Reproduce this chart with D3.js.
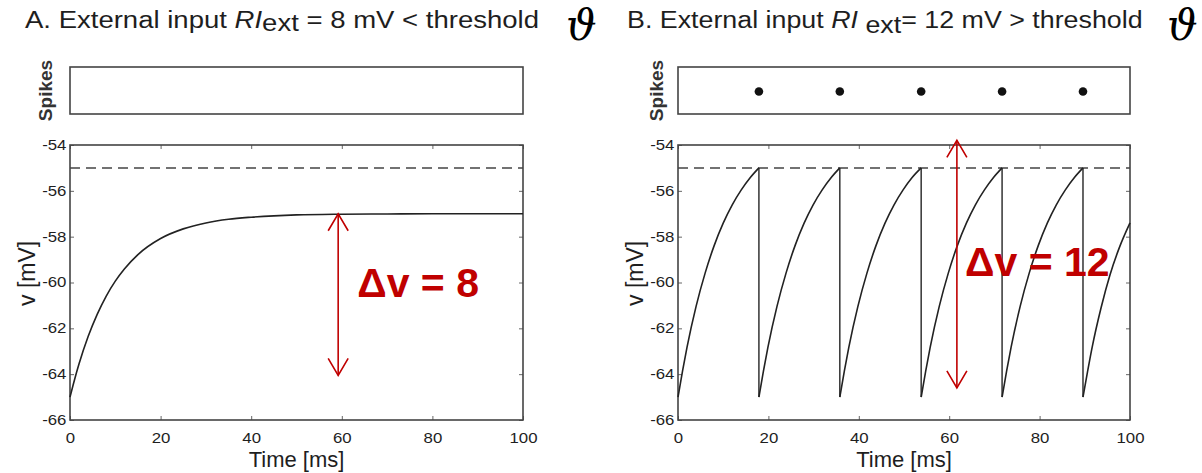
<!DOCTYPE html>
<html lang="en">
<head>
<meta charset="utf-8">
<title>Leaky integrate-and-fire: input below and above threshold</title>
<script src="https://d3js.org/d3.v7.min.js"></script>
<style>
  body { margin: 0; background: #fff; }
  svg text { font-family: "Liberation Sans", Arial, Helvetica, sans-serif; fill: #1e1e1e; }
  .tick line { stroke: #666; }
</style>
</head>
<body>
<script>
// ---- data ----
var xTicks = [0, 20, 40, 60, 80, 100];
var yTicks = [-54, -56, -58, -60, -62, -64, -66];
var threshold = -55;

// panel A: sub-threshold input, v relaxes towards -57 mV
var timeA = [0, 1, 2, 4, 6, 8, 10, 12, 15, 20, 25, 30, 35, 40, 50, 60, 70, 80, 90, 100];
var voltA = [-65, -64.24, -63.55, -62.36, -61.39, -60.59, -59.94, -59.41, -58.78, -58.08,
             -57.66, -57.4, -57.24, -57.15, -57.05, -57.02, -57.01, -57, -57, -57];

// panel B: supra-threshold input, reset to -65 at each spike
var timeB = [0, 1, 2, 4, 6, 8, 10, 12, 14, 16, 17.9,
             17.9, 18.9, 19.9, 21.9, 23.9, 25.9, 27.9, 29.9, 31.9, 33.9, 35.8,
             35.8, 36.8, 37.8, 39.8, 41.8, 43.8, 45.8, 47.8, 49.8, 51.8, 53.8,
             53.8, 54.8, 55.8, 57.8, 59.8, 61.8, 63.8, 65.8, 67.8, 69.8, 71.7,
             71.7, 72.7, 73.7, 75.7, 77.7, 79.7, 81.7, 83.7, 85.7, 87.7, 89.6,
             89.6, 90.6, 91.6, 93.6, 95.6, 97.6, 100];
var voltB = [-65, -63.87, -62.82, -61.04, -59.59, -58.39, -57.41, -56.61, -55.96, -55.42, -55,
             -65, -63.87, -62.82, -61.04, -59.59, -58.39, -57.41, -56.61, -55.96, -55.42, -55,
             -65, -63.87, -62.82, -61.04, -59.59, -58.39, -57.41, -56.61, -55.96, -55.42, -55,
             -65, -63.87, -62.82, -61.04, -59.59, -58.39, -57.41, -56.61, -55.96, -55.42, -55,
             -65, -63.87, -62.82, -61.04, -59.59, -58.39, -57.41, -56.61, -55.96, -55.42, -55,
             -65, -63.9, -62.85, -61.1, -59.65, -58.5, -57.4];
var spikesA = [];
var spikesB = [17.9, 35.8, 53.8, 71.7, 89.6];

// red annotations: arrow time, arrow ends (mV), label anchor
var arrowT = [59.2, 61.7];
var arrowTop = [-57.0, -53.8];
var arrowBottom = [-64.05, -64.6];
var deltaLabels = ["\u0394v = 8", "\u0394v = 12"];
var labelT = [63.4, 63.5];
var labelV = [-60.65, -59.7];

// ---- layout ----
var width = 1202, height = 473;
var svg = d3.select("body").append("svg")
    .attr("width", width)
    .attr("height", height);

var red = "#c00000";
var textStretch = 1.2;

var panels = [
  { left: 70, right: 523, time: timeA, volt: voltA, spikes: spikesA,
    titleX: 25, titleEnd: 539, thetaX: 566, spikeLabelX: 45 },
  { left: 678, right: 1130, time: timeB, volt: voltB, spikes: spikesB,
    titleX: 627, titleEnd: 1143, thetaX: 1167, spikeLabelX: 656 }
];

var spikeTop = 67, spikeBottom = 114;
var plotTop = 145, plotBottom = 420;

var y = d3.scaleLinear().domain([-66, -54]).range([plotBottom, plotTop]);

// stretch a text element horizontally to a target width, keeping its left edge
function fitWidth(el, x, yb, target) {
  var w = el.node().getComputedTextLength();
  el.attr("transform", "translate(" + x + "," + yb + ") scale(" + (target / w) + ",1)");
}

panels.forEach(function(p, i) {
  var x = d3.scaleLinear().domain([0, 100]).range([p.left, p.right]);
  var g = svg.append("g");

  // title
  var title = g.append("text")
      .attr("font-size", 23);
  title.append("tspan").text(i === 0 ? "A.  External input " : "B. External input ");
  title.append("tspan").attr("font-style", "italic").text(i === 0 ? "RI" : "RI ");
  title.append("tspan").attr("dy", i === 0 ? 3 : 5).text("ext");
  title.append("tspan").attr("dy", i === 0 ? -3 : -5)
      .text(i === 0 ? " = 8 mV < threshold" : "= 12 mV > threshold");
  fitWidth(title, p.titleX, 28, p.titleEnd - p.titleX);

  g.append("text")
      .attr("x", p.thetaX)
      .attr("y", 40)
      .attr("font-size", 43)
      .attr("font-style", "italic")
      .style("font-family", "'DejaVu Serif', serif")
      .style("fill", "#000")
      .text("\u03d1");

  // spike raster
  g.append("rect")
      .attr("x", p.left)
      .attr("y", spikeTop)
      .attr("width", p.right - p.left)
      .attr("height", spikeBottom - spikeTop)
      .attr("fill", "none")
      .attr("stroke", "#444")
      .attr("stroke-width", 1.6);

  g.selectAll(".spike")
      .data(p.spikes)
      .enter().append("circle")
      .attr("class", "spike")
      .attr("cx", function(d) { return x(d); })
      .attr("cy", (spikeTop + spikeBottom) / 2 + 1)
      .attr("r", 4.3)
      .attr("fill", "#111");

  g.append("text")
      .attr("transform", "translate(" + p.spikeLabelX + "," + ((spikeTop + spikeBottom) / 2) + ") rotate(-90)")
      .attr("text-anchor", "middle")
      .attr("dy", "0.35em")
      .attr("font-size", 19)
      .attr("font-weight", "bold")
      .style("fill", "#333")
      .text("Spikes");

  // axes (inward ticks, box style)
  var fmt = function(d) { return String(d); };
  var bottom = g.append("g")
      .attr("transform", "translate(0," + plotBottom + ")")
      .call(d3.axisBottom(x).tickValues(xTicks).tickFormat(fmt).tickSizeInner(-4).tickSizeOuter(0).tickPadding(13));
  g.append("g")
      .attr("transform", "translate(0," + plotTop + ")")
      .call(d3.axisTop(x).tickValues(xTicks).tickSizeInner(-4).tickSizeOuter(0).tickFormat(""));
  var left = g.append("g")
      .attr("transform", "translate(" + p.left + ",0)")
      .call(d3.axisLeft(y).tickValues(yTicks).tickFormat(fmt).tickSizeInner(-4).tickSizeOuter(0).tickPadding(3));
  g.append("g")
      .attr("transform", "translate(" + p.right + ",0)")
      .call(d3.axisRight(y).tickValues(yTicks).tickSizeInner(-4).tickSizeOuter(0).tickFormat(""));

  g.selectAll(".domain").remove();
  [bottom, left].forEach(function(a) {
    a.selectAll("text")
        .attr("font-size", 14)
        .attr("fill", "#1e1e1e")
        .attr("transform", "scale(" + textStretch + ",1)");
  });

  g.append("rect")
      .attr("x", p.left)
      .attr("y", plotTop)
      .attr("width", p.right - p.left)
      .attr("height", plotBottom - plotTop)
      .attr("fill", "none")
      .attr("stroke", "#444")
      .attr("stroke-width", 1.6);

  // threshold
  g.append("line")
      .attr("x1", p.left)
      .attr("x2", p.right)
      .attr("y1", y(threshold))
      .attr("y2", y(threshold))
      .attr("stroke", "#444")
      .attr("stroke-width", 1.5)
      .attr("stroke-dasharray", "10,6");

  // membrane potential: smooth runs between resets, straight reset lines
  var runs = [[]];
  p.time.forEach(function(t, k) {
    if (k > 0 && t === p.time[k - 1]) {
      g.append("line")
          .attr("x1", x(t)).attr("x2", x(t))
          .attr("y1", y(p.volt[k - 1])).attr("y2", y(p.volt[k]))
          .attr("stroke", "#333")
          .attr("stroke-width", 1.5);
      runs.push([]);
    }
    runs[runs.length - 1].push([t, p.volt[k]]);
  });
  var line = d3.line()
      .x(function(d) { return x(d[0]); })
      .y(function(d) { return y(d[1]); })
      .curve(d3.curveMonotoneX);
  g.selectAll(".trace")
      .data(runs)
      .enter().append("path")
      .attr("class", "trace")
      .attr("d", line)
      .attr("fill", "none")
      .attr("stroke", "#222")
      .attr("stroke-width", 1.6);

  // axis titles
  g.append("text")
      .attr("x", (p.left + p.right) / 2)
      .attr("y", 467)
      .attr("text-anchor", "middle")
      .attr("font-size", 22)
      .text("Time [ms]");
  g.append("text")
      .attr("transform", "translate(" + (p.left - 43) + "," + y(-59.6) + ") rotate(-90)")
      .attr("text-anchor", "middle")
      .attr("dy", "0.35em")
      .attr("font-size", 23)
      .text("v [mV]");

  // red delta-v annotation
  var ax = x(arrowT[i]), ay0 = y(arrowTop[i]), ay1 = y(arrowBottom[i]);
  g.append("line")
      .attr("x1", ax).attr("x2", ax)
      .attr("y1", ay0).attr("y2", ay1)
      .attr("stroke", red)
      .attr("stroke-width", 1.6);
  g.append("path")
      .attr("d", "M" + (ax - 10) + "," + (ay0 + 17) + "L" + ax + "," + ay0 + "L" + (ax + 10) + "," + (ay0 + 17) +
                 "M" + (ax - 10) + "," + (ay1 - 17) + "L" + ax + "," + ay1 + "L" + (ax + 10) + "," + (ay1 - 17))
      .attr("fill", "none")
      .attr("stroke", red)
      .attr("stroke-width", 1.6);
  g.append("text")
      .attr("x", x(labelT[i]))
      .attr("y", y(labelV[i]))
      .attr("font-size", 41)
      .attr("font-weight", "bold")
      .style("fill", red)
      .text(deltaLabels[i]);
});
</script>
</body>
</html>
